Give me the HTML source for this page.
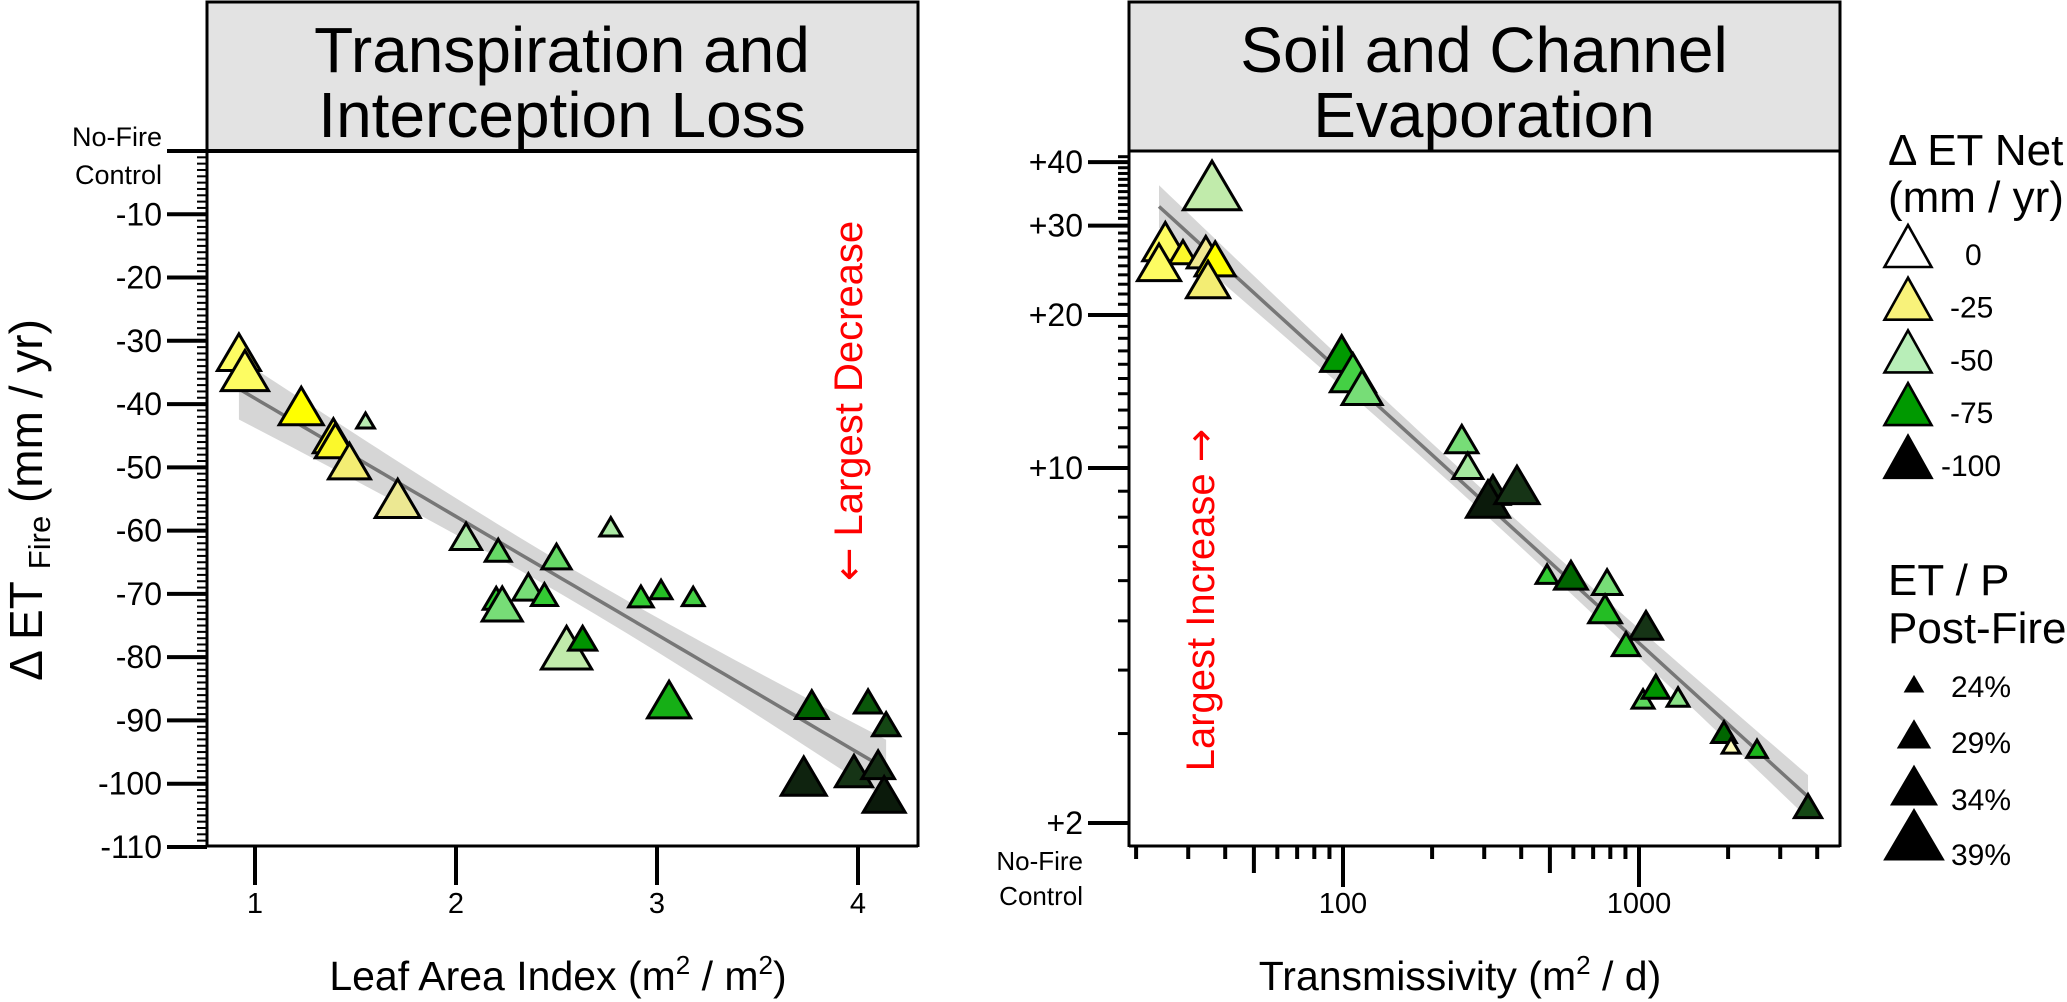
<!DOCTYPE html>
<html><head><meta charset="utf-8"><style>
html,body{margin:0;padding:0;background:#fff;}
svg{display:block;font-family:"Liberation Sans",Arial,sans-serif;}
</style></head><body>
<svg id="chart" width="2067" height="1002" viewBox="0 0 2067 1002" xmlns="http://www.w3.org/2000/svg">
<g id="bgL"></g>
<g id="bandL"></g>
<g id="ptsL"></g>
<g id="bandR"></g>
<g id="ptsR"></g>
<g id="axes"></g>
<g id="legend"></g>
</svg>
<script>
// ---- Left panel data: LAI vs delta ET fire ----
const laiX = [0.92,0.95,1.23,1.55,1.39,1.40,1.47,1.71,2.05,2.77,2.21,2.50,2.36,2.44,2.20,2.23,2.92,3.02,3.18,2.55,2.63,3.06,3.77,4.05,4.14,3.73,3.98,4.10,4.13];
const laiY = [-31.8,-34.7,-40.3,-42.6,-45.0,-45.8,-49.0,-54.9,-60.9,-59.4,-63.1,-64.1,-68.9,-70.1,-70.7,-71.6,-70.4,-69.3,-70.4,-78.5,-77.0,-86.7,-87.5,-87.0,-90.6,-98.8,-98.0,-97.0,-101.7];
const laiNet = [-20,-20,-27,-50,-30,-30,-35,-38,-52,-52,-62,-62,-60,-68,-68,-60,-68,-70,-66,-48,-76,-72,-85,-88,-91,-96,-94,-95,-97];
const laiETP = [32.8,34.3,33.2,23.5,31.7,31.7,32.4,33.5,28.4,25,26.5,27.7,28.4,26.5,26.5,31.7,26,25,25,35.4,27.3,32.8,29,27,27,33.5,30.6,29,32.4];

// ---- Right panel data: transmissivity vs delta ET fire ----
const trX = [36.1,25.1,28.8,23.9,34.4,37.0,35.0,99,108,116,252,264,321,309,387,489,589,780,768,1056,904,1032,1140,1355,1937,2046,2504,3724];
const trY = [36.0,27.9,26.6,25.4,26.6,25.8,23.5,16.8,15.4,14.4,11.4,10.1,9.05,8.69,9.26,6.18,6.15,5.96,5.28,4.90,4.50,3.51,3.71,3.54,3.02,2.84,2.80,2.16];
const trNet = [-48,-20,-30,-20,-37,-27,-35,-75,-66,-60,-60,-53,-95,-97,-94,-68,-85,-60,-70,-94,-70,-63,-76,-57,-85,-12,-71,-91];
const trETP = [38,33.5,27,32.8,30.6,31.7,32.8,32.4,33.5,31.7,28.8,28,29.5,32.8,33.2,25,29,27.7,29,29,27,25,27,25,26,23.5,24.5,27];

// ---- Axis tick labels ----
const yTicksL = [-10,-20,-30,-40,-50,-60,-70,-80,-90,-100,-110];
const xTicksL = [1,2,3,4];
const yTicksR = [40,30,20,10,2];
const xTicksRMajor = [100,1000];
const legendNet = [0,-25,-50,-75,-100];
const legendNetColors = ['#ffffff','#f8f27a','#b8eeb8','#009900','#000000'];
const legendETP = [24,29,34,39];

const NS='http://www.w3.org/2000/svg';
function mk(parent,tag,attrs,text){const e=document.createElementNS(NS,tag);for(const k in attrs)e.setAttribute(k,attrs[k]);if(text!==undefined)e.textContent=text;parent.appendChild(e);return e;}

const xL=v=>255+(v-1)*201;
const yL=v=>151-v*6.327;
const xR=v=>1343+296*Math.log10(v/100);
const yR=v=>823-220.6*Math.log(v/2);
const triW=p=>19+2.73*(p-24);

const stops=[[0,[255,255,255]],[-15,[252,250,168]],[-27,[255,255,0]],[-37,[240,232,144]],[-50,[184,236,176]],[-60,[119,221,119]],[-68,[51,204,51]],[-75,[0,153,0]],[-85,[0,102,0]],[-93,[26,61,26]],[-100,[0,0,0]]];
function netColor(v){
  for(let i=0;i<stops.length-1;i++){const a=stops[i],b=stops[i+1];
    if(v<=a[0]&&v>=b[0]){const t=(a[0]-v)/(a[0]-b[0]);const c=a[1].map((x,j)=>Math.round(x+(b[1][j]-x)*t));return 'rgb('+c.join(',')+')';}}
  return v>0?'#ffffff':'#000000';
}
function tri(parent,cx,cy,w,fill){
  const h=0.85*w;
  return mk(parent,'polygon',{points:`${cx},${cy-h/2} ${cx-w/2},${cy+h/2} ${cx+w/2},${cy+h/2}`,fill:fill,stroke:'#000','stroke-width':3,'stroke-linejoin':'miter'});
}

function fit(xs,ys){
  const n=xs.length;const mx=xs.reduce((a,b)=>a+b)/n,my=ys.reduce((a,b)=>a+b)/n;
  let sxx=0,sxy=0;for(let i=0;i<n;i++){sxx+=(xs[i]-mx)**2;sxy+=(xs[i]-mx)*(ys[i]-my);}
  const b=sxy/sxx,a=my-b*mx;let sse=0;for(let i=0;i<n;i++)sse+=(ys[i]-a-b*xs[i])**2;
  const se=Math.sqrt(sse/(n-2));return {a,b,mx,sxx,se,n};
}
function bandPts(f,x0,x1,toX,toY,inv){
  const up=[],lo=[],line=[];
  for(let k=0;k<=60;k++){const x=x0+(x1-x0)*k/60;const yh=f.a+f.b*x;
    const h=2.05*f.se*Math.sqrt(1/f.n+(x-f.mx)**2/f.sxx);
    const X=toX(inv(x));up.push(X+','+toY(inv(yh+h)));lo.unshift(X+','+toY(inv(yh-h)));line.push(X+','+toY(inv(yh)));}
  return {poly:up.concat(lo).join(' '),line:line.join(' ')};
}

const bgL=document.getElementById('bgL');
let e;
e=mk(bgL,'rect',{x:207,y:2,width:711,height:149,fill:'#e3e3e3',stroke:'#000','stroke-width':3});

e=mk(bgL,'rect',{x:1129,y:2,width:711,height:149,fill:'#e3e3e3',stroke:'#000','stroke-width':3});

const titles=[[562,72,'Transpiration and'],[562,137,'Interception Loss'],[1484,72,'Soil and Channel'],[1484,137,'Evaporation']];
titles.forEach((t,i)=>{e=mk(bgL,'text',{x:t[0],y:t[1],'font-size':64,'text-anchor':'middle',fill:'#000'},t[2]);
  });

const fL=fit(laiX,laiY);
const bL=bandPts(fL,Math.min(...laiX),Math.max(...laiX),xL,yL,v=>v);
const gBL=document.getElementById('bandL');
e=mk(gBL,'polygon',{points:bL.poly,fill:'#d6d6d6'});
e=mk(gBL,'polyline',{points:bL.line,fill:'none',stroke:'#777','stroke-width':3.5});

const gPL=document.getElementById('ptsL');
laiX.forEach((x,i)=>{e=tri(gPL,xL(x),yL(laiY[i]),triW(laiETP[i]),netColor(laiNet[i]));
  });

const fR=fit(trX.map(Math.log),trY.map(Math.log));
const bR=bandPts(fR,Math.log(Math.min(...trX)),Math.log(Math.max(...trX)),xR,yR,Math.exp);
const gBR=document.getElementById('bandR');
e=mk(gBR,'polygon',{points:bR.poly,fill:'#d6d6d6'});
e=mk(gBR,'polyline',{points:bR.line,fill:'none',stroke:'#777','stroke-width':3.5});

const gPR=document.getElementById('ptsR');
trX.forEach((x,i)=>{e=tri(gPR,xR(x),yR(trY[i]),triW(trETP[i]),netColor(trNet[i]));
  });

const ax=document.getElementById('axes');
function ln(x1,y1,x2,y2,w,name){const l=mk(ax,'line',{x1,y1,x2,y2,stroke:'#000','stroke-width':w});
  return l;}
ln(207,151,207,847,3,'left-y-axis-line');ln(207,846,918,846,3,'left-x-axis-line');ln(918,151,918,847,3,'left-panel-border');
ln(167,151,918,151,4,'left-zero-line');
for(let v=-1;v>=-109;v--){if(v%10!==0)ln(197,yL(v),207,yL(v),2,'left-y-minor-tick');}
yTicksL.forEach(v=>{ln(167,yL(v),207,yL(v),4,'left-y-tick');
  e=mk(ax,'text',{x:162,y:yL(v)+11,'font-size':32,'text-anchor':'end'},String(v));});
e=mk(ax,'text',{x:162,y:146,'font-size':27,'text-anchor':'end'},'No-Fire');
e=mk(ax,'text',{x:162,y:184,'font-size':27,'text-anchor':'end'},'Control');
xTicksL.forEach(v=>{ln(xL(v),846,xL(v),885,4,'left-x-tick');
  e=mk(ax,'text',{x:xL(v),y:913,'font-size':29,'text-anchor':'middle'},String(v));});
e=mk(ax,'text',{x:558,y:990,'font-size':41,'text-anchor':'middle'});
e.innerHTML='Leaf Area Index (m<tspan font-size="26" dy="-16">2</tspan><tspan dy="16"> / m</tspan><tspan font-size="26" dy="-16">2</tspan><tspan dy="16">)</tspan>';
e=mk(ax,'text',{transform:'translate(42,500) rotate(-90)','font-size':46,'text-anchor':'middle'});
e.innerHTML='Δ ET <tspan font-size="31" dy="8">Fire</tspan><tspan dy="-8"> (mm / yr)</tspan>';
e=mk(ax,'text',{transform:'translate(862,401) rotate(-90)','font-size':40,'text-anchor':'middle',fill:'#ff0000'});
e.innerHTML='<tspan font-family="DejaVu Sans">←</tspan> Largest Decrease';


ln(1129,151,1129,847,3,'right-y-axis-line');ln(1129,846,1840,846,3,'right-x-axis-line');ln(1840,151,1840,847,3,'right-panel-border');
for(let v=3;v<=41;v++){if(yTicksR.indexOf(v)<0)ln(1118,yR(v),1129,yR(v),3,'right-y-minor-tick');}
yTicksR.forEach(v=>{ln(1088,yR(v),1129,yR(v),4,'right-y-tick');
  e=mk(ax,'text',{x:1083,y:yR(v)+11,'font-size':32,'text-anchor':'end'},'+'+v);});
e=mk(ax,'text',{x:1083,y:870,'font-size':26,'text-anchor':'end'},'No-Fire');
e=mk(ax,'text',{x:1083,y:905,'font-size':26,'text-anchor':'end'},'Control');
[20,30,40,50,60,70,80,90,200,300,400,500,600,700,800,900,2000,3000,4000].forEach(v=>{
  const len=(v===50||v===500)?27:13;ln(xR(v),846,xR(v),846+len,4,'right-x-minor-tick');});
xTicksRMajor.forEach(v=>{ln(xR(v),846,xR(v),887,4,'right-x-tick');
  e=mk(ax,'text',{x:xR(v),y:913,'font-size':29,'text-anchor':'middle'},String(v));});
e=mk(ax,'text',{x:1460,y:990,'font-size':41,'text-anchor':'middle'});
e.innerHTML='Transmissivity (m<tspan font-size="26" dy="-16">2</tspan><tspan dy="16"> / d)</tspan>';
e=mk(ax,'text',{transform:'translate(1214,600) rotate(-90)','font-size':40,'text-anchor':'middle',fill:'#ff0000'});
e.innerHTML='Largest Increase <tspan font-family="DejaVu Sans">→</tspan>';


const lg=document.getElementById('legend');
[['Δ ET Net',1888,165],['(mm / yr)',1888,212],['ET / P',1888,595],['Post-Fire',1888,643]].forEach(t=>{
  e=mk(lg,'text',{x:t[1],y:t[2],'font-size':44},t[0]);});
legendNet.forEach((v,i)=>{const by=267+i*52.7;
  e=mk(lg,'polygon',{points:`1908,${by-42} 1884.5,${by} 1931.5,${by}`,fill:legendNetColors[i],stroke:'#000','stroke-width':2.6});
  
  e=mk(lg,'text',{x:v===0?1965:(v===-100?1941:1950),y:by-2,'font-size':30},String(v));
  });
legendETP.forEach((p,i)=>{const by=[692,748,805,860][i];const w=triW(p),h=0.85*w;
  e=mk(lg,'polygon',{points:`1914,${by-h} ${1914-w/2},${by} ${1914+w/2},${by}`,fill:'#000',stroke:'#000','stroke-width':1});
  
  e=mk(lg,'text',{x:1951,y:by+5,'font-size':30},p+'%');
  });
</script>
</body></html>
